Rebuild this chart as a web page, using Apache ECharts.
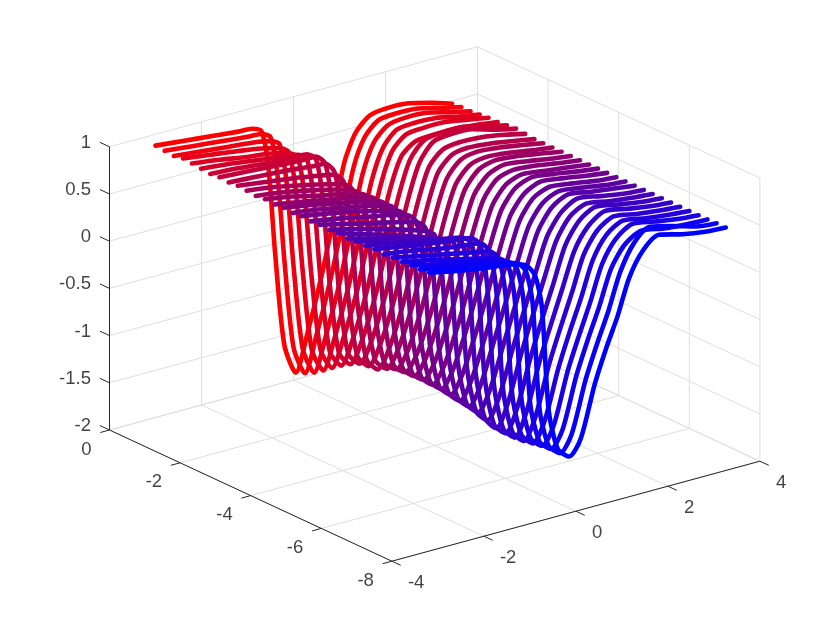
<!DOCTYPE html>
<html><head><meta charset="utf-8">
<script src="https://cdn.jsdelivr.net/npm/echarts@6/dist/echarts.min.js"></script>
<style>html,body{margin:0;padding:0;background:#fff}#c{width:840px;height:630px}</style>
</head><body><div id="c"></div>
<script>
const xTicks=[0,-2,-4,-6,-8];
const yTicks=[-4,-2,0,2,4];
const zTicks=[1,0.5,0,-0.5,-1,-1.5,-2];
const zTickLabels=['1','0.5','0','-0.5','-1','-1.5','-2'];
const curveX=[0,-0.26,-0.52,-0.78,-1.03,-1.29,-1.55,-1.81,-2.07,-2.33,-2.58,-2.84,-3.1,-3.36,-3.62,-3.88,-4.13,-4.39,-4.65,-4.91,-5.17,-5.43,-5.68,-5.94,-6.2,-6.46,-6.72,-6.98,-7.23,-7.49,-7.75];
const curveY=[-3,-2.4,-1.8,-1.2,-0.9,-0.7,-0.55,-0.4,-0.2,0.05,0.3,0.6,0.85,1.1,1.35,1.65,2,2.5,3,3.45];
const zRows=[
[.88,.85,.82,.79,.78,.73,.35,-.60,-1.60,-1.93,-1.55,-1.00,-.45,.15,.44,.58,.61,.60,.54,.47],
[.87,.84,.81,.78,.77,.71,.30,-.62,-1.58,-1.89,-1.52,-.98,-.44,.14,.44,.58,.60,.59,.53,.48],
[.86,.83,.80,.77,.74,.68,.26,-.64,-1.55,-1.84,-1.49,-.97,-.43,.12,.43,.57,.60,.59,.53,.48],
[.88,.84,.80,.75,.71,.64,.22,-.65,-1.52,-1.77,-1.45,-.95,-.42,.10,.42,.57,.59,.58,.53,.49],
[.87,.83,.78,.74,.70,.63,.20,-.66,-1.48,-1.70,-1.41,-.94,-.42,.09,.42,.56,.58,.58,.54,.50],
[.86,.83,.79,.75,.73,.66,.22,-.66,-1.45,-1.63,-1.38,-.92,-.41,.08,.41,.53,.55,.55,.53,.50],
[.85,.83,.80,.78,.78,.70,.25,-.67,-1.42,-1.57,-1.35,-.90,-.40,.08,.43,.59,.62,.62,.56,.51],
[.86,.84,.82,.80,.80,.70,.24,-.68,-1.38,-1.52,-1.32,-.88,-.40,.08,.44,.62,.65,.64,.57,.52],
[.85,.83,.81,.78,.77,.66,.20,-.70,-1.36,-1.50,-1.30,-.87,-.40,.07,.43,.58,.61,.60,.56,.51],
[.86,.82,.78,.73,.70,.60,.16,-.72,-1.35,-1.49,-1.29,-.86,-.40,.06,.42,.57,.60,.58,.54,.50],
[.85,.81,.75,.68,.64,.56,.14,-.74,-1.32,-1.44,-1.26,-.85,-.41,.05,.40,.56,.60,.58,.54,.50],
[.84,.80,.74,.67,.62,.54,.13,-.76,-1.30,-1.40,-1.24,-.84,-.41,.04,.39,.55,.59,.57,.53,.50],
[.85,.80,.73,.67,.63,.54,.13,-.77,-1.28,-1.385,-1.23,-.84,-.42,.03,.38,.55,.60,.58,.54,.50],
[.84,.79,.73,.68,.64,.55,.13,-.78,-1.27,-1.38,-1.22,-.83,-.42,.02,.37,.54,.60,.57,.53,.50],
[.85,.80,.74,.68,.64,.54,.13,-.79,-1.27,-1.375,-1.21,-.82,-.42,.01,.36,.54,.59,.57,.53,.50],
[.84,.80,.74,.68,.64,.54,.13,-.80,-1.27,-1.38,-1.21,-.82,-.42,.00,.35,.53,.59,.56,.53,.50],
[.85,.80,.74,.67,.63,.53,.13,-.81,-1.27,-1.385,-1.21,-.81,-.42,-.01,.34,.53,.60,.57,.53,.50],
[.84,.79,.73,.67,.63,.53,.13,-.82,-1.28,-1.40,-1.22,-.81,-.43,-.02,.33,.52,.60,.57,.53,.50],
[.85,.78,.71,.64,.60,.51,.12,-.83,-1.30,-1.42,-1.23,-.81,-.43,-.03,.32,.52,.59,.56,.52,.50],
[.84,.77,.69,.60,.55,.48,.11,-.84,-1.31,-1.435,-1.24,-.80,-.43,-.04,.31,.51,.59,.56,.52,.50],
[.85,.76,.67,.57,.52,.47,.10,-.85,-1.33,-1.45,-1.25,-.80,-.43,-.05,.30,.51,.60,.56,.53,.50],
[.84,.76,.68,.59,.54,.50,.12,-.86,-1.36,-1.49,-1.28,-.80,-.43,-.06,.29,.50,.60,.56,.52,.50],
[.85,.78,.71,.64,.60,.54,.14,-.88,-1.39,-1.53,-1.30,-.80,-.43,-.07,.28,.50,.59,.55,.52,.50],
[.85,.80,.74,.69,.66,.58,.16,-.90,-1.41,-1.54,-1.31,-.80,-.43,-.08,.28,.50,.60,.56,.52,.50],
[.86,.81,.76,.72,.70,.60,.17,-.92,-1.41,-1.54,-1.31,-.79,-.43,-.08,.27,.49,.60,.56,.52,.50],
[.85,.81,.75,.71,.69,.58,.15,-.93,-1.40,-1.53,-1.31,-.79,-.43,-.09,.27,.49,.59,.55,.52,.50],
[.86,.80,.74,.68,.65,.55,.15,-.94,-1.39,-1.51,-1.31,-.79,-.43,-.10,.26,.49,.59,.55,.52,.50],
[.86,.80,.73,.66,.62,.53,.16,-.94,-1.38,-1.49,-1.31,-.78,-.43,-.10,.26,.49,.60,.56,.52,.50],
[.87,.80,.74,.67,.63,.54,.18,-.95,-1.37,-1.48,-1.31,-.78,-.43,-.11,.25,.47,.57,.53,.51,.50],
[.87,.81,.76,.70,.66,.55,.19,-.95,-1.37,-1.48,-1.31,-.78,-.43,-.11,.26,.53,.66,.60,.53,.505],
[.88,.82,.77,.73,.68,.55,.20,-.92,-1.36,-1.47,-1.31,-.78,-.43,-.12,.25,.50,.62,.56,.52,.505]
];

// Orthographic view of MATLAB's default 3-D axes
const view={ox:109.5,oy:430,xx:-35.3,xy:-16.4,yx:46,yy:-12.5,zy:-94.4};
function P(x,y,z){
  return [view.ox+view.xx*x+view.yx*(y+4), view.oy+view.xy*x+view.yy*(y+4)+view.zy*(z+2)];
}
const GAP=['-','-'];
function segs(list){const o=[];list.forEach(s=>{o.push(P(...s[0]),P(...s[1]),GAP)});return o;}

const gridSegs=[];
zTicks.forEach(z=>{gridSegs.push([[0,-4,z],[0,4,z]]);gridSegs.push([[0,4,z],[-8,4,z]]);});
yTicks.forEach(y=>{gridSegs.push([[0,y,-2],[0,y,1]]);gridSegs.push([[0,y,-2],[-8,y,-2]]);});
xTicks.forEach(x=>{gridSegs.push([[x,4,-2],[x,4,1]]);gridSegs.push([[x,-4,-2],[x,4,-2]]);});

const axisSegs=[[[0,-4,-2],[0,-4,1]],[[0,-4,-2],[-8,-4,-2]],[[-8,-4,-2],[-8,4,-2]]];
zTicks.forEach(z=>axisSegs.push([[0,-4,z],[0.27,-4,z]]));
xTicks.forEach(x=>axisSegs.push([[x,-4,-2],[x,-4.2,-2]]));
yTicks.forEach(y=>axisSegs.push([[-8,y,-2],[-8.25,y,-2]]));

function lineSeries(data,color,width,z){
  return {type:'line',data,symbol:'none',silent:true,connectNulls:false,z,
    lineStyle:{color,width,cap:'butt'},animation:false};
}
function colorOf(x){
  const t=x/curveX[curveX.length-1];
  return 'rgb('+Math.round(255*(1-t))+',0,'+Math.round(255*t)+')';
}
const font={fontFamily:'"Liberation Sans",Arial,sans-serif',fontSize:18.5,color:'#111111'};
function labelSeries(points,align,off){
  return {type:'scatter',symbolSize:0,silent:true,z:20,animation:false,
    data:points.map(p=>({value:p.pos,name:p.text})),
    label:{show:true,position:'inside',formatter:q=>q.name,align,verticalAlign:'middle',offset:off,...font}};
}
const series=[
  lineSeries(segs(gridSegs),'#dfdfdf',1,1),
  lineSeries(segs(axisSegs),'#262626',1,3)
];
curveX.forEach((x,i)=>{
  series.push({type:'line',smooth:0.25,symbol:'none',silent:true,z:10,animation:false,
    data:curveY.map((y,j)=>P(x,y,zRows[i][j])),
    lineStyle:{color:colorOf(x),width:4.6,cap:'round',join:'round'}});
});
series.push(labelSeries(zTicks.map((z,i)=>({pos:P(0,-4,z),text:zTickLabels[i]})),'right',[-18.5,-4]));
series.push(labelSeries(xTicks.map(x=>({pos:P(x,-4,-2),text:String(x)})),'right',[-18,19.5]));
series.push(labelSeries(yTicks.map(y=>({pos:P(-8,y,-2),text:String(y)})),'left',[16,21.5]));

echarts.init(document.getElementById('c'),null,{renderer:'canvas'}).setOption({
  animation:false,backgroundColor:'#fff',
  grid:{left:0,right:0,top:0,bottom:0},
  xAxis:{type:'value',min:0,max:840,show:false},
  yAxis:{type:'value',min:0,max:630,inverse:true,show:false},
  series
});
</script></body></html>
